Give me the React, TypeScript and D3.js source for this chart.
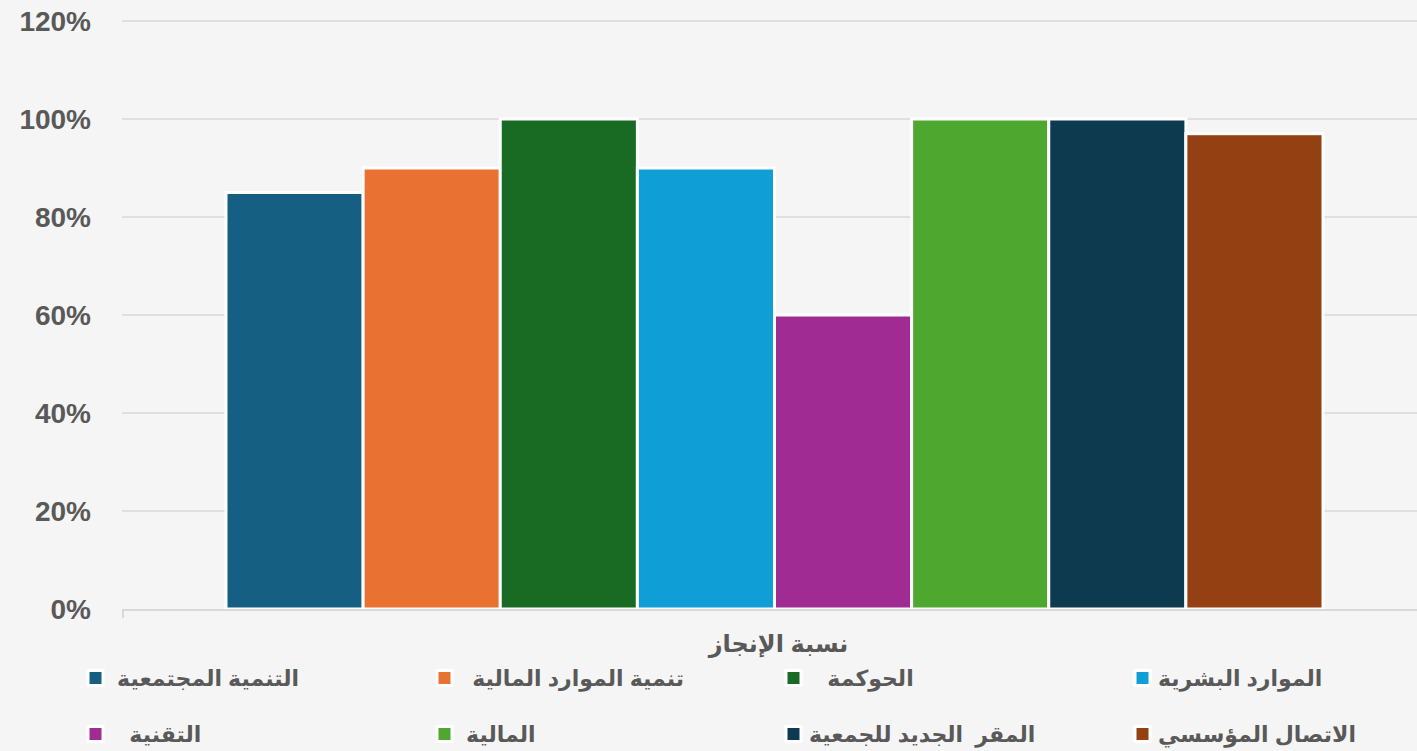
import React from "react";
import * as d3 from "d3";

const category = "نسبة الإنجاز";
const seriesNames = [
  "التنمية المجتمعية ",
  "تنمية الموارد المالية  ",
  "الحوكمة   ",
  "الموارد البشرية",
  "التقنية   ",
  "المالية ",
  "المقر  الجديد للجمعية",
  "الاتصال المؤسسي",
];
const seriesValues = [0.85, 0.9, 1.0, 0.9, 0.6, 1.0, 1.0, 0.97];
const seriesColors = [
  "#156082",
  "#E97132",
  "#196B24",
  "#0F9ED5",
  "#A02B93",
  "#4EA72E",
  "#0D3A4F",
  "#954012",
];
const yTicks = [0, 0.2, 0.4, 0.6, 0.8, 1.0, 1.2];

const W = 1417;
const H = 751;

export default function App() {
  const x0 = d3.scaleBand<string>().domain([category]).range([122, 1427]).paddingInner(0).paddingOuter(0.0948);
  const x1 = d3
    .scaleBand<string>()
    .domain(seriesNames)
    .range([x0(category) as number, (x0(category) as number) + x0.bandwidth()])
    .padding(0);
  const y = d3.scaleLinear().domain([0, 1.2]).range([609, 21]);
  const fmt = d3.format(".0%");
  const font = "'Liberation Sans', Arial, 'DejaVu Sans', sans-serif";
  const textColor = "#595959";

  const legendCols = 4;
  const legendX = (i: number) => 88 + (i % legendCols) * 349;
  const legendY = (i: number) => 678 + Math.floor(i / legendCols) * 56;

  return (
    <div style={{ position: "fixed", left: 0, top: 0, width: W, height: H, overflow: "hidden" }}>
      <svg width={W} height={H} style={{ display: "block" }}>
        <rect x={0} y={0} width={W} height={H} fill="#f5f5f5" />
        {yTicks.map((t) => (
          <g key={t}>
            {t > 0 && (
              <line x1={122} x2={W} y1={y(t)} y2={y(t)} stroke="#d9d9d9" strokeWidth={1.5} />
            )}
            <text
              x={91}
              y={y(t)}
              dy="0.36em"
              textAnchor="end"
              fontFamily={font}
              fontWeight="bold"
              fontSize={28}
              fill={textColor}
            >
              {fmt(t)}
            </text>
          </g>
        ))}
        {seriesNames.map((s, i) => (
          <rect
            key={s}
            x={x1(s)}
            y={y(seriesValues[i])}
            width={x1.bandwidth()}
            height={y(0) - y(seriesValues[i])}
            fill={seriesColors[i]}
            stroke="#ffffff"
            strokeWidth={3}
          />
        ))}
        <line x1={122} x2={W} y1={y(0) + 1} y2={y(0) + 1} stroke="#d9d9d9" strokeWidth={2} />
        <line x1={123} x2={123} y1={y(0) + 1} y2={y(0) + 9} stroke="#d9d9d9" strokeWidth={2} />
        <text
          x={(x0(category) as number) + x0.bandwidth() / 2 + 4}
          y={652}
          textAnchor="middle"
          fontFamily={font}
          fontWeight="bold"
          fontSize={24}
          fill={textColor}
        >
          {category}
        </text>
        {seriesNames.map((s, i) => (
          <g key={"lg" + s}>
            <rect
              x={legendX(i)}
              y={legendY(i) - 7.5}
              width={15}
              height={15}
              fill={seriesColors[i]}
              stroke="#ffffff"
              strokeWidth={3}
            />
            <text
              x={legendX(i) + 23}
              y={legendY(i)}
              dy="0.35em"
              direction="rtl"
              textAnchor="end"
              fontFamily={font}
              fontWeight="bold"
              fontSize={22}
              fill={textColor}
              style={{ whiteSpace: "pre" }}
            >
              {s}
            </text>
          </g>
        ))}
      </svg>
    </div>
  );
}
